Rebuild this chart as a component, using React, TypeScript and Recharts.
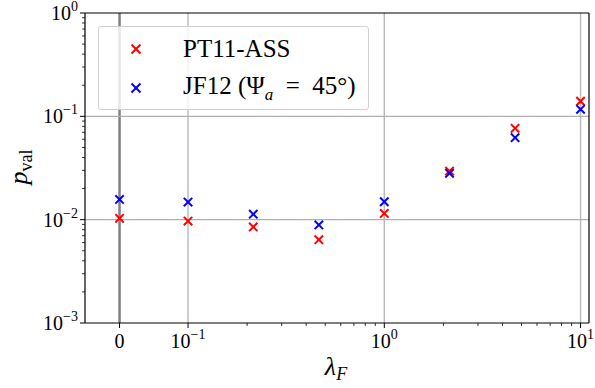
import React from 'react';
import { ScatterChart, Scatter, XAxis, YAxis, ReferenceLine } from 'recharts';

// lambda_F values (0 sits in the linear part of the symlog axis)
const LAMBDA_F = [0, 0.1, 0.215, 0.464, 1, 2.15, 4.64, 10];
const PT11_ASS = [0.0103, 0.0097, 0.0085, 0.0064, 0.0115, 0.0295, 0.0765, 0.14];
const JF12 = [0.0157, 0.0148, 0.0113, 0.0089, 0.0149, 0.0281, 0.0621, 0.117];

const SERIES = [
  { name: 'PT11-ASS', color: '#ff0000', values: PT11_ASS },
  { name: 'JF12', color: '#0000ff', values: JF12 },
];

const X_MAJOR = [
  { value: 0, base: '0', exp: '' },
  { value: 0.1, base: '10', exp: '−1' },
  { value: 1, base: '10', exp: '0' },
  { value: 10, base: '10', exp: '1' },
];
const Y_MAJOR = [
  { value: 0.001, exp: '−3' },
  { value: 0.01, exp: '−2' },
  { value: 0.1, exp: '−1' },
  { value: 1, exp: '0' },
];

// symlog-ish transform: log10 above 0.1, linear from 0 to 0.1
const LINTHRESH = 0.1;
const LINSPAN = 0.349;
const symlog = (x: number) =>
  x >= LINTHRESH ? Math.log10(x) : Math.log10(LINTHRESH) - LINSPAN * (1 - x / LINTHRESH);

const X_DOMAIN = [-1.525, 1.043];

const xMinor: number[] = [];
[0.1, 1].forEach((d) => {
  for (let k = 2; k <= 9; k++) xMinor.push(symlog(k * d));
});
const yMinor: number[] = [];
[0.001, 0.01, 0.1].forEach((d) => {
  for (let k = 2; k <= 9; k++) yMinor.push(k * d);
});

const xTicks = [...X_MAJOR.map((m) => symlog(m.value)), ...xMinor];
const yTicks = [...Y_MAJOR.map((m) => m.value), ...yMinor];

const FONT = 'Liberation Serif, Times New Roman, serif';

const XTick = (props: any) => {
  const { x, y, payload } = props;
  const major = X_MAJOR.find((m) => Math.abs(symlog(m.value) - payload.value) < 1e-6);
  return (
    <g>
      <line x1={x} y1={y} x2={x} y2={y + (major ? 5 : 3)} stroke="#000" strokeWidth={major ? 1 : 0.8} />
      {major && (
        <text x={x} y={y + 25} textAnchor="middle" fontFamily={FONT} fontSize={20} fill="#000">
          {major.base}
          {major.exp && (
            <tspan dy={-9} fontSize={14}>
              {major.exp}
            </tspan>
          )}
        </text>
      )}
    </g>
  );
};

const YTick = (props: any) => {
  const { x, y, payload } = props;
  const major = Y_MAJOR.find((m) => Math.abs(m.value - payload.value) < 1e-9);
  return (
    <g>
      <line x1={x} y1={y} x2={x - (major ? 5 : 3)} y2={y} stroke="#000" strokeWidth={major ? 1 : 0.8} />
      {major && (
        <text x={x - 7} y={y + 7} textAnchor="end" fontFamily={FONT} fontSize={20} fill="#000">
          10
          <tspan dy={-9} fontSize={14}>
            {major.exp}
          </tspan>
        </text>
      )}
    </g>
  );
};

const crossShape = (color: string, r: number) => (props: any) => {
  const { cx, cy } = props;
  return (
    <g>
      <line x1={cx - r} y1={cy - r} x2={cx + r} y2={cy + r} stroke={color} strokeWidth={2} />
      <line x1={cx - r} y1={cy + r} x2={cx + r} y2={cy - r} stroke={color} strokeWidth={2} />
    </g>
  );
};

const seriesData = SERIES.map((s) => ({
  ...s,
  data: LAMBDA_F.map((lf, i) => ({ xp: symlog(lf), y: s.values[i] })),
}));

export default function App() {
  return (
    <div style={{ position: 'absolute', left: 0, top: 0, width: 595, height: 388, background: '#fff' }}>
      <ScatterChart width={595} height={388} margin={{ top: 13, right: 6, bottom: 15, left: 15 }}>
        <XAxis
          type="number"
          dataKey="xp"
          domain={X_DOMAIN}
          allowDataOverflow
          ticks={xTicks}
          interval={0}
          tick={<XTick />}
          tickLine={false}
          tickSize={0}
          tickMargin={0}
          height={50}
          axisLine={{ stroke: '#000', strokeWidth: 1.2 }}
        />
        <YAxis
          type="number"
          dataKey="y"
          scale="log"
          domain={[0.001, 1]}
          allowDataOverflow
          ticks={yTicks}
          interval={0}
          tick={<YTick />}
          tickLine={false}
          tickSize={0}
          tickMargin={0}
          width={70}
          axisLine={{ stroke: '#000', strokeWidth: 1.2 }}
        />
        {X_MAJOR.slice(1).map((m) => (
          <ReferenceLine key={'vx' + m.value} x={symlog(m.value)} stroke="#b8b8b8" strokeWidth={1.4} />
        ))}
        <ReferenceLine x={symlog(0)} stroke="#808080" strokeWidth={2.5} />
        {Y_MAJOR.slice(1, 3).map((m) => (
          <ReferenceLine key={'hy' + m.value} y={m.value} stroke="#b0b0b0" strokeWidth={1.3} />
        ))}
        <ReferenceLine y={1} stroke="#000" strokeWidth={1.2} />
        <ReferenceLine x={X_DOMAIN[1]} stroke="#000" strokeWidth={1.2} />
        {seriesData.map((s) => (
          <Scatter
            key={s.name}
            name={s.name}
            data={s.data}
            shape={crossShape(s.color, 4.2)}
            isAnimationActive={false}
          />
        ))}
      </ScatterChart>
      <svg width={595} height={388} style={{ position: 'absolute', left: 0, top: 0, pointerEvents: 'none' }}>
        <text
          x={27}
          y={167}
          transform="rotate(-90 27 167)"
          textAnchor="middle"
          fontFamily={FONT}
          fontSize={26}
          fill="#000"
        >
          <tspan fontStyle="italic">p</tspan>
          <tspan dy={5} fontSize={18}>
            val
          </tspan>
        </text>
        <text x={336} y={375} textAnchor="middle" fontFamily={FONT} fontSize={26} fill="#000">
          <tspan fontStyle="italic">λ</tspan>
          <tspan dy={5} fontSize={18} fontStyle="italic">
            F
          </tspan>
        </text>
      </svg>
      <div
        style={{
          position: 'absolute',
          left: 98,
          top: 26,
          width: 271,
          height: 84,
          boxSizing: 'border-box',
          border: '1px solid #d0d0d0',
          borderRadius: 3,
          background: 'rgba(255,255,255,0.8)',
          fontFamily: FONT,
          fontSize: 25,
          color: '#000',
        }}
      >
        {SERIES.map((s, i) => (
          <div
            key={s.name}
            style={{ position: 'absolute', left: 0, top: 5 + i * 39, height: 34, display: 'flex', alignItems: 'center' }}
          >
            <svg width={84} height={34}>
              <line x1={32.5} y1={12.5} x2={41.5} y2={21.5} stroke={s.color} strokeWidth={2} />
              <line x1={32.5} y1={21.5} x2={41.5} y2={12.5} stroke={s.color} strokeWidth={2} />
            </svg>
            <span style={{ whiteSpace: 'nowrap' }}>
              {i === 0 ? (
                s.name
              ) : (
                <>
                  {s.name} (Ψ<sub style={{ fontStyle: 'italic', fontSize: 17 }}>a</sub>
                  {'\u2002=\u2002'}45°)
                </>
              )}
            </span>
          </div>
        ))}
      </div>
    </div>
  );
}
